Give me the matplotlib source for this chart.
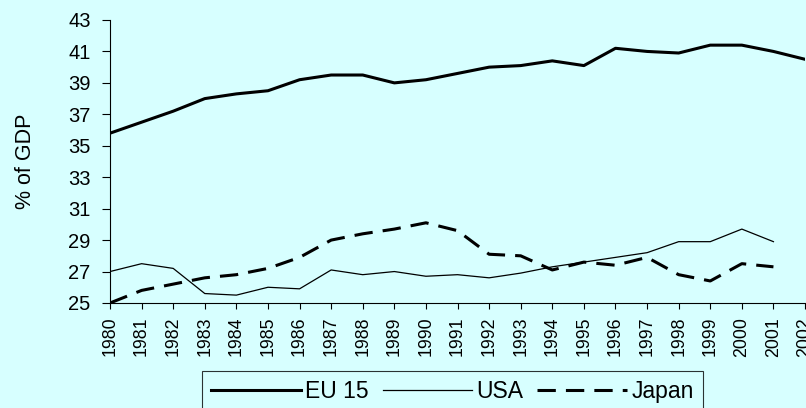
import matplotlib

matplotlib.use("Agg")
import matplotlib.pyplot as plt

years = list(range(1980, 2003))
year_labels = [str(y) for y in years]
eu15 = [35.8, 36.5, 37.2, 38.0, 38.3, 38.5, 39.2, 39.5, 39.5, 39.0, 39.2, 39.6,
        40.0, 40.1, 40.4, 40.1, 41.2, 41.0, 40.9, 41.4, 41.4, 41.0, 40.5]
usa = [27.0, 27.5, 27.2, 25.6, 25.5, 26.0, 25.9, 27.1, 26.8, 27.0, 26.7, 26.8,
       26.6, 26.9, 27.3, 27.6, 27.9, 28.2, 28.9, 28.9, 29.7, 28.9]
japan = [25.0, 25.8, 26.2, 26.6, 26.8, 27.2, 27.9, 29.0, 29.4, 29.7, 30.1, 29.6,
         28.1, 28.0, 27.1, 27.6, 27.4, 27.9, 26.8, 26.4, 27.5, 27.3]
y_ticks = list(range(25, 44, 2))

bg = "#D7FFFF"
plt.rcParams["font.family"] = ["Liberation Sans", "DejaVu Sans"]

fig = plt.figure(figsize=(8.06, 4.08), dpi=100, facecolor=bg)
ax = fig.add_axes([0.1365, 0.2574, 0.8623, 0.6936], facecolor=bg)

ax.plot(years, eu15, color="black", linewidth=2.2, label="EU 15")
ax.plot(years[:len(usa)], usa, color="black", linewidth=0.9, label="USA")
ax.plot(years[:len(japan)], japan, color="black", linewidth=2.2,
        dashes=(6, 3.3), label="Japan")

ax.set_xlim(years[0], years[-1])
ax.set_ylim(25, 43)
ax.set_yticks(y_ticks)
ax.set_xticks(years, year_labels, rotation=90, fontsize=12.8)
ax.tick_params(axis="y", length=6, width=0.8, pad=8, labelsize=14.5)
ax.tick_params(axis="x", length=4, width=0.8, pad=6)
for side in ("top", "right"):
    ax.spines[side].set_visible(False)
for side in ("left", "bottom"):
    ax.spines[side].set_linewidth(0.8)
ax.set_ylabel("% of GDP", fontsize=15.5, labelpad=23)

leg = fig.legend(loc="upper center", bbox_to_anchor=(0.5615, 0.09), ncol=3,
                 fontsize=16.5, frameon=True, fancybox=False, edgecolor="black",
                 facecolor=bg, handlelength=3.9, handletextpad=0.2,
                 columnspacing=0.6, borderpad=0.4, borderaxespad=0)
leg.get_frame().set_linewidth(0.8)

fig.savefig("out.png", dpi=100, facecolor=bg)
